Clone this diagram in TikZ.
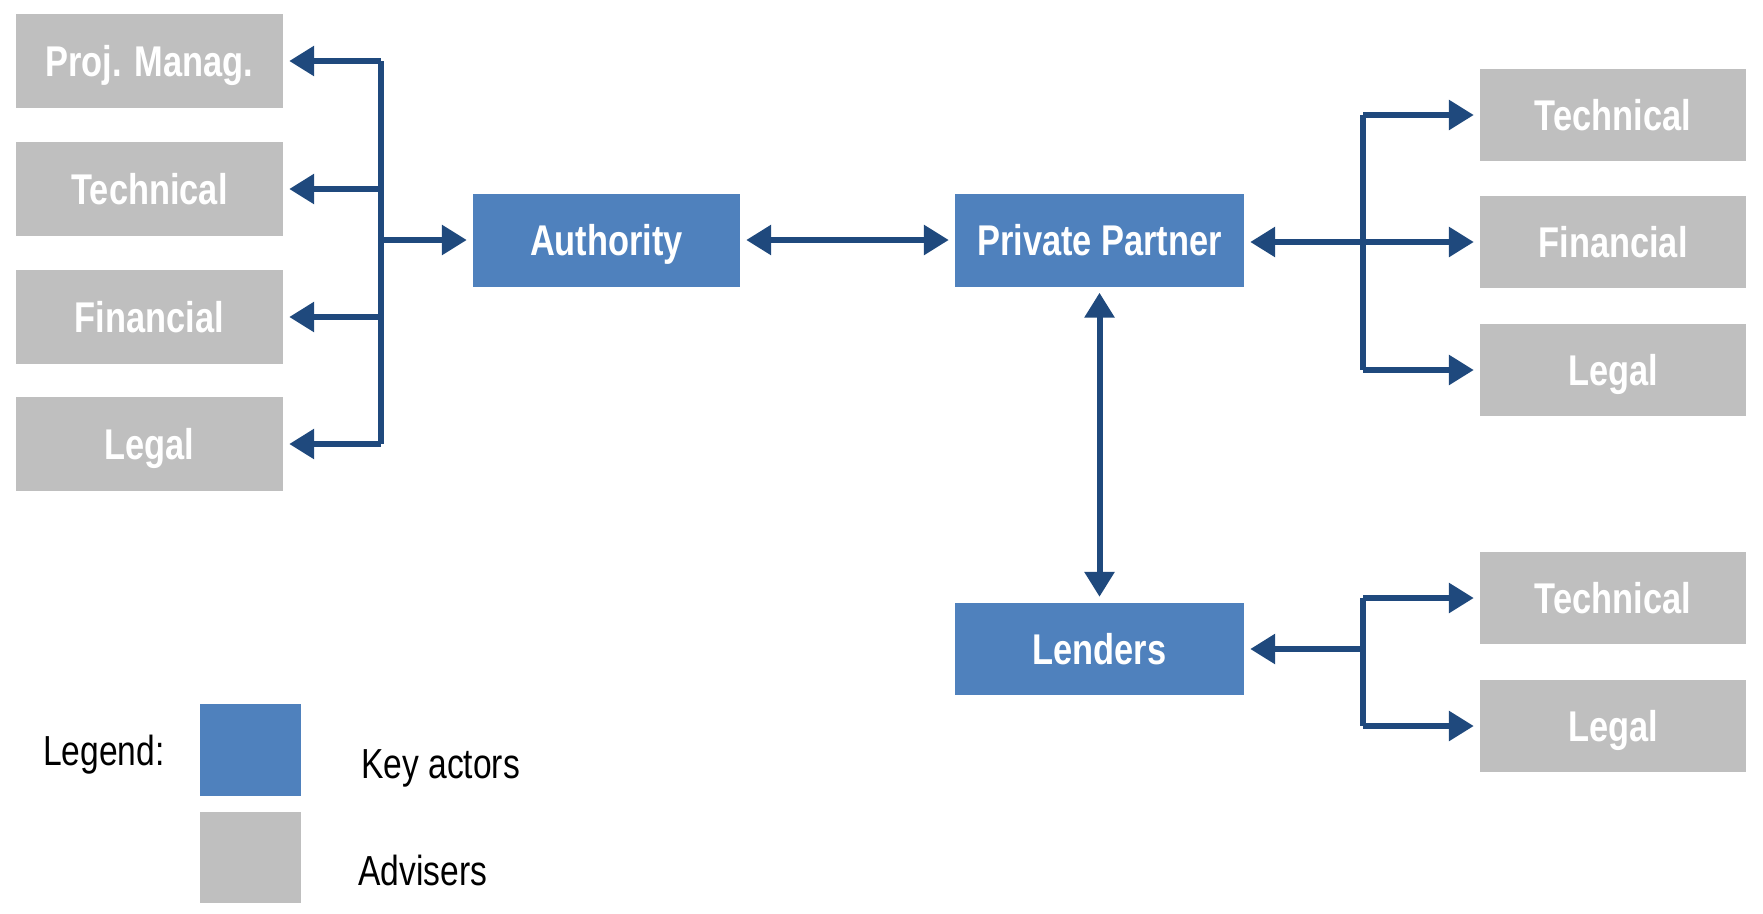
\documentclass[tikz,border=0pt]{standalone}
\usepackage{fontspec}
\setmainfont{Liberation Sans}[FakeStretch=0.8]
\usetikzlibrary{arrows.meta}
\definecolor{keyblue}{RGB}{79,129,189}
\definecolor{advgrey}{RGB}{191,191,191}
\definecolor{arrowblue}{RGB}{31,73,125}
\begin{document}
\begin{tikzpicture}[x=1pt,y=-1pt,
  box/.style={inner sep=0pt, text=white, font=\fontsize{43}{50}\selectfont\bfseries, text height=30pt, text depth=0pt, align=center},
  actor/.style={box, fill=keyblue, minimum height=93pt},
  adviser/.style={box, fill=advgrey, minimum height=94pt},
  conn/.style={draw=arrowblue, line width=6pt, line join=miter, -{Triangle[length=25pt,width=29pt]}, shorten >=6pt},
  bus/.style={draw=arrowblue, line width=6pt},
  both/.style={conn, {Triangle[length=25pt,width=29pt]}-{Triangle[length=25pt,width=29pt]}, shorten <=6pt},
  legtext/.style={anchor=base west, inner sep=0pt, font=\fontsize{42}{50}\selectfont}
]
\useasboundingbox (0,0) rectangle (1763,913);

% left advisers
\node[adviser, minimum width=267pt] (lpm) at (149.5,61) {Proj. Manag.};
\node[adviser, minimum width=267pt] (ltech) at (149.5,189) {Technical};
\node[adviser, minimum width=267pt] (lfin) at (149.5,317) {Financial};
\node[adviser, minimum width=267pt] (lleg) at (149.5,444) {Legal};

% key actors
\node[actor, minimum width=267pt] (auth) at (606.5,240) {Authority};
\node[actor, minimum width=289pt] (pp) at (1099.5,240) {Private Partner};
\node[actor, minimum width=289pt, minimum height=92pt] (lend) at (1099.5,649) {Lenders};

% right advisers
\node[adviser, minimum width=266pt, minimum height=92pt] (rtech) at (1613,115) {Technical};
\node[adviser, minimum width=266pt, minimum height=92pt] (rfin) at (1613,242) {Financial};
\node[adviser, minimum width=266pt, minimum height=92pt] (rleg) at (1613,370) {Legal};
\node[adviser, minimum width=266pt, minimum height=92pt] (btech) at (1613,598) {Technical};
\node[adviser, minimum width=266pt, minimum height=92pt] (bleg) at (1613,726) {Legal};

% left bus
\coordinate (lb1) at (381,61);
\coordinate (lb2) at (381,189);
\coordinate (lb3) at (381,317);
\coordinate (lb4) at (381,444);
\coordinate (lba) at (381,240);
\path[bus] (lb1) -- (lb4);
\draw[conn] (lb1) -- (lpm.east);
\draw[conn] (lb2) -- (ltech.east);
\draw[conn] (lb3) -- (lfin.east);
\draw[conn] (lb4) -- (lleg.east);
\draw[conn] (lba) -- (auth.west);

% centre
\draw[both] (auth.east) -- (pp.west);
\draw[both] (pp.south) -- (lend.north);

% right bus
\coordinate (rb1) at (1363,115);
\coordinate (rb2) at (1363,242);
\coordinate (rb3) at (1363,370);
\path[bus] (rb1) -- (rb3);
\draw[conn] (rb1) -- (rtech.west);
\draw[conn] (rb2) -- (rfin.west);
\draw[conn] (rb3) -- (rleg.west);
\draw[conn] (rb2) -- (pp.east |- rb2);

% lower right bus
\coordinate (lb5) at (1363,598);
\coordinate (lb6) at (1363,726);
\coordinate (lbl) at (1363,649);
\path[bus] (lb5) -- (lb6);
\draw[conn] (lb5) -- (btech.west);
\draw[conn] (lb6) -- (bleg.west);
\draw[conn] (lbl) -- (lend.east);

% legend
\node[legtext] (legend) at (43,765) {Legend:};
\node[fill=keyblue, minimum width=101pt, minimum height=92pt, inner sep=0pt] (legkey) at (250.5,750) {};
\node[fill=advgrey, minimum width=101pt, minimum height=91pt, inner sep=0pt] (legadv) at (250.5,857.5) {};
\node[legtext] (keytxt) at (361,778) {Key actors};
\node[legtext] (advtxt) at (358,885) {Advisers};
\end{tikzpicture}
\end{document}
